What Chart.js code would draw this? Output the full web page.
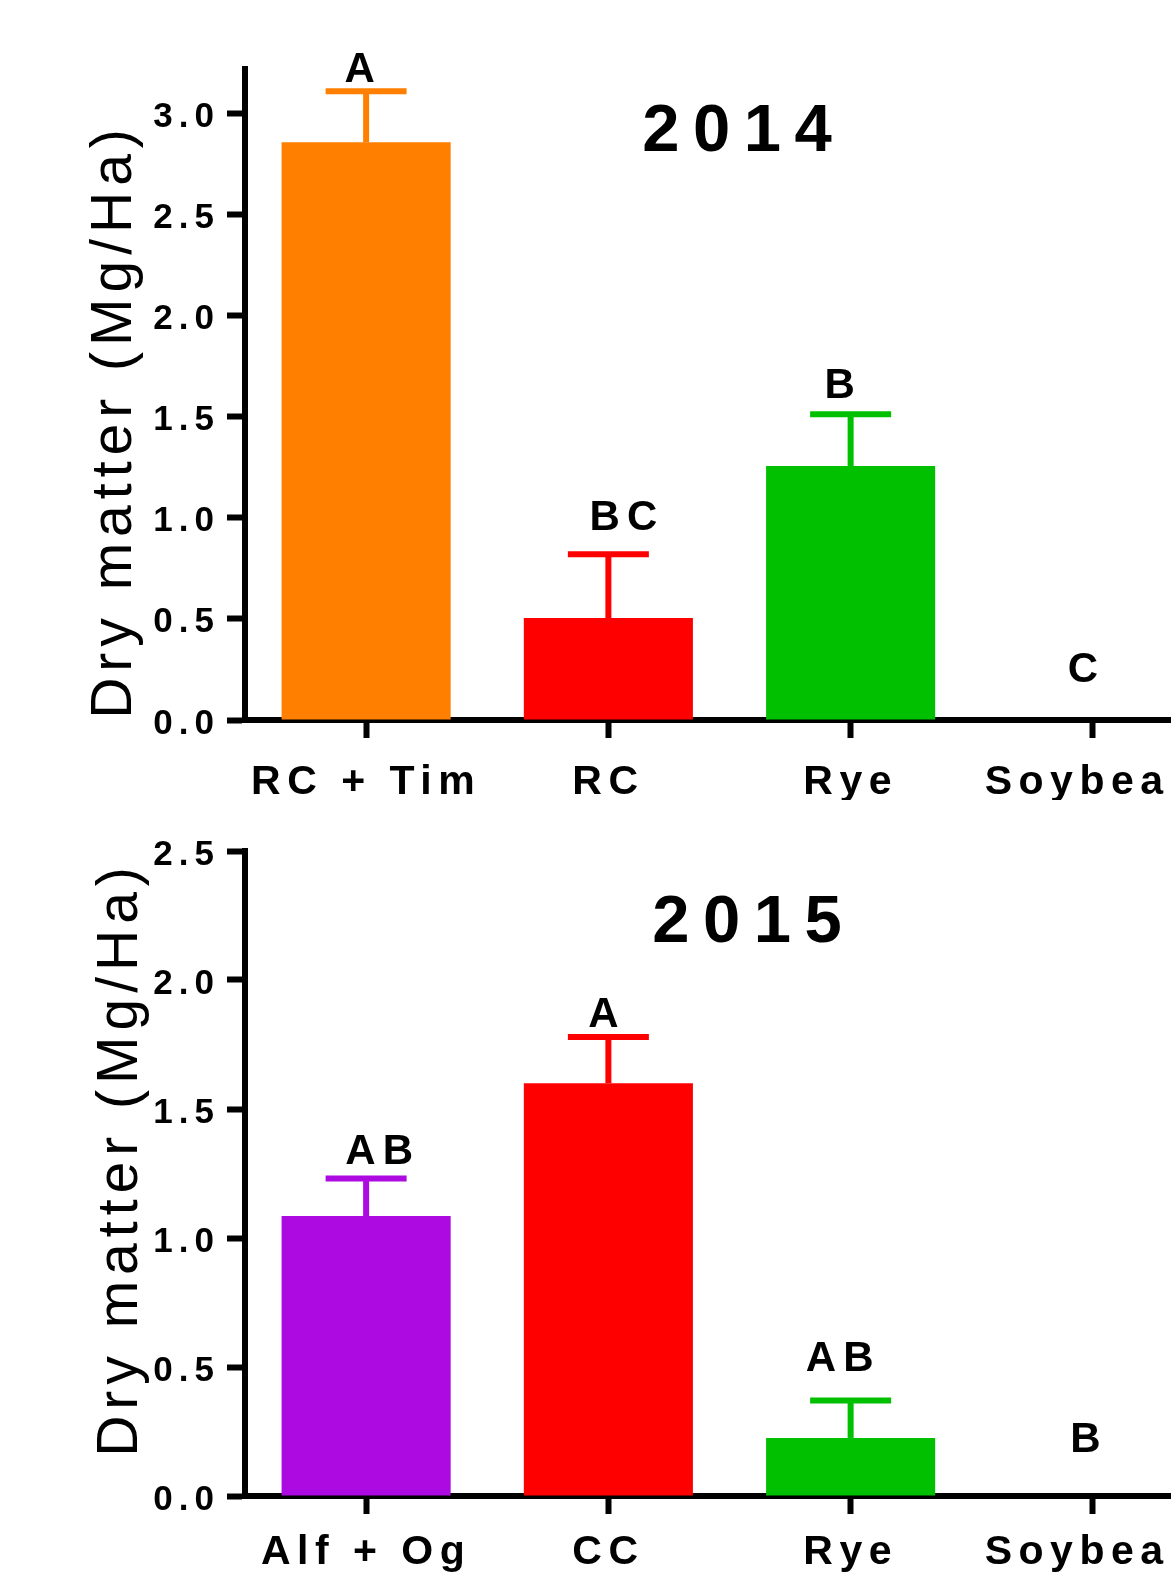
<!DOCTYPE html>
<html>
<head>
<meta charset="utf-8">
<script src="https://cdn.jsdelivr.net/npm/chart.js@4.4.1/dist/chart.umd.min.js"></script>
<style>
  html, body { margin: 0; padding: 0; background: #fff; overflow: hidden; width: 1171px; height: 1575px; }
  canvas { position: absolute; left: 0; }
  #chart2014 { top: 0; }
  #chart2015 { top: 800px; }
</style>
</head>
<body>
<canvas id="chart2014" width="1240" height="800"></canvas>
<canvas id="chart2015" width="1240" height="775"></canvas>
<script>
// ---- data: cover-crop dry matter, mean and standard error (Mg/Ha) ----
const categories2014 = ['RC + Tim', 'RC', 'Rye', 'Soybean'];
const means2014 = [2.855, 0.504, 1.255, 0];
const errors2014 = [0.252, 0.315, 0.256, 0];
const letters2014 = ['A', 'BC', 'B', 'C'];
const yTicks2014 = [0, 0.5, 1.0, 1.5, 2.0, 2.5, 3.0];
const yMax2014 = 3.22;

const categories2015 = ['Alf + Og', 'CC', 'Rye', 'Soybean'];
const means2015 = [1.085, 1.60, 0.225, 0];
const errors2015 = [0.146, 0.179, 0.145, 0];
const letters2015 = ['AB', 'A', 'AB', 'B'];
const yTicks2015 = [0, 0.5, 1.0, 1.5, 2.0, 2.5];
const yMax2015 = 2.5;

// ---- styling ----
const FONT = "'Liberation Sans', Arial, Helvetica, sans-serif";
const colors2014 = ['#FF8000', '#FF0000', '#00C000', '#00C000'];
const colors2015 = ['#AC0AE0', '#FF0000', '#00C000', '#00C000'];

// letter-spaced text helper: x is the visual centre of the glyph run
function spacedText(ctx, text, x, y, spacing, align) {
  ctx.save();
  ctx.letterSpacing = '0px';
  const natural = ctx.measureText(text).width;
  const w = natural + spacing * (text.length - 1);
  ctx.letterSpacing = spacing + 'px';
  ctx.textAlign = 'left';
  const start = align === 'center' ? x - w / 2 : x;
  ctx.fillText(text, start, y);
  ctx.restore();
}

// axis tick labels drawn with letter spacing
const spacedAxisLabels = {
  id: 'spacedAxisLabels',
  beforeDraw(chart, args, opts) {
    Object.values(chart.scales).forEach(scale => {
      if (scale.$spaced) return;
      const draw = scale.drawLabels;
      const spacing = opts[scale.id] || 0;
      scale.drawLabels = function (area) {
        this.ctx.save();
        this.ctx.letterSpacing = spacing + 'px';
        draw.call(this, area);
        this.ctx.restore();
      };
      scale.$spaced = true;
    });
  }
};

// error bars (upper only), significance letters, panel and axis titles
const panelAnnotations = {
  id: 'panelAnnotations',
  afterDatasetsDraw(chart, args, o) {
    const ctx = chart.ctx;
    const meta = chart.getDatasetMeta(0);
    const y = chart.scales.y;
    ctx.save();
    ctx.lineCap = 'butt';
    o.means.forEach((m, i) => {
      const cx = meta.data[i].x;
      let anchor = y.getPixelForValue(m);
      if (o.errors[i] > 0) {
        const capY = y.getPixelForValue(m + o.errors[i]);
        ctx.strokeStyle = o.colors[i];
        ctx.lineWidth = 6;
        ctx.beginPath();
        ctx.moveTo(cx, anchor);
        ctx.lineTo(cx, capY);
        ctx.stroke();
        ctx.beginPath();
        ctx.moveTo(cx - 40.5, capY);
        ctx.lineTo(cx + 40.5, capY);
        ctx.stroke();
        anchor = capY;
      }
      ctx.fillStyle = '#000';
      ctx.font = 'bold 42px ' + FONT;
      ctx.textBaseline = 'alphabetic';
      spacedText(ctx, o.letters[i], cx + o.letterDx[i], anchor - o.letterGap[i], 7, 'center');
    });

    // panel title
    ctx.fillStyle = '#000';
    ctx.font = 'bold 67px ' + FONT;
    ctx.textBaseline = 'alphabetic';
    spacedText(ctx, o.title, o.titleX, o.titleY, 13.5, 'center');

    // rotated y-axis title
    ctx.font = '57px ' + FONT;
    ctx.translate(o.yTitleX, o.yTitleY);
    ctx.rotate(-Math.PI / 2);
    spacedText(ctx, 'Dry matter (Mg/Ha)', 0, 0, 6, 'center');
    ctx.restore();
  }
};

function buildChart(canvasId, cats, means, errors, letters, colors, ticks, yMax, layout) {
  return new Chart(document.getElementById(canvasId), {
    type: 'bar',
    data: {
      labels: cats,
      datasets: [{
        data: means,
        backgroundColor: colors,
        borderWidth: 0,
        categoryPercentage: 1.0,
        barPercentage: 0.698
      }]
    },
    options: {
      responsive: false,
      animation: false,
      devicePixelRatio: 1,
      layout: { padding: { top: layout.top, right: 26, left: 0, bottom: 0 } },
      plugins: {
        legend: { display: false },
        tooltip: { enabled: false },
        spacedAxisLabels: { x: 6.5, y: 6 },
        panelAnnotations: {
          means, errors, letters, colors,
          letterDx: layout.letterDx, letterGap: layout.letterGap,
          title: layout.title, titleX: layout.titleX, titleY: layout.titleY,
          yTitleX: layout.yTitleX, yTitleY: layout.yTitleY
        }
      },
      scales: {
        x: {
          offset: true,
          grid: { display: true, drawOnChartArea: false, offset: false, drawTicks: true, tickLength: 18, tickWidth: 6, tickColor: '#000' },
          border: { display: true, width: 6, color: '#000' },
          ticks: {
            color: '#000', autoSkip: false, maxRotation: 0, minRotation: 0,
            padding: layout.xPad,
            font: { family: FONT, size: 41, weight: 'bold' }
          },
          afterFit(scale) { scale.height = layout.xHeight; }
        },
        y: {
          min: 0, max: yMax,
          grid: { display: true, drawOnChartArea: false, drawTicks: true, tickLength: 18, tickWidth: 6, tickColor: '#000' },
          border: { display: true, width: 6, color: '#000' },
          ticks: {
            color: '#000', includeBounds: false, padding: 7, labelOffset: 4,
            font: { family: FONT, size: 35, weight: 'bold' },
            callback: v => Number(v).toFixed(1)
          },
          afterBuildTicks(scale) { scale.ticks = ticks.map(v => ({ value: v })); },
          afterFit(scale) { scale.width = 245; }
        }
      }
    },
    plugins: [spacedAxisLabels, panelAnnotations]
  });
}

buildChart('chart2014', categories2014, means2014, errors2014, letters2014, colors2014, yTicks2014, yMax2014, {
  top: 68.5, xHeight: 80, xPad: 20,
  letterDx: [-6.5, 15, -11, -10], letterGap: [9, 24, 16, 38],
  title: '2014', titleX: 737, titleY: 151, yTitleX: 131, yTitleY: 424
});

buildChart('chart2015', categories2015, means2015, errors2015, letters2015, colors2015, yTicks2015, yMax2015, {
  top: 51, xHeight: 79, xPad: 14,
  letterDx: [13, -5, -11, -7.5], letterGap: [14.5, 10, 30, 44],
  title: '2015', titleX: 747, titleY: 142, yTitleX: 137, yTitleY: 362
});
</script>
</body>
</html>
